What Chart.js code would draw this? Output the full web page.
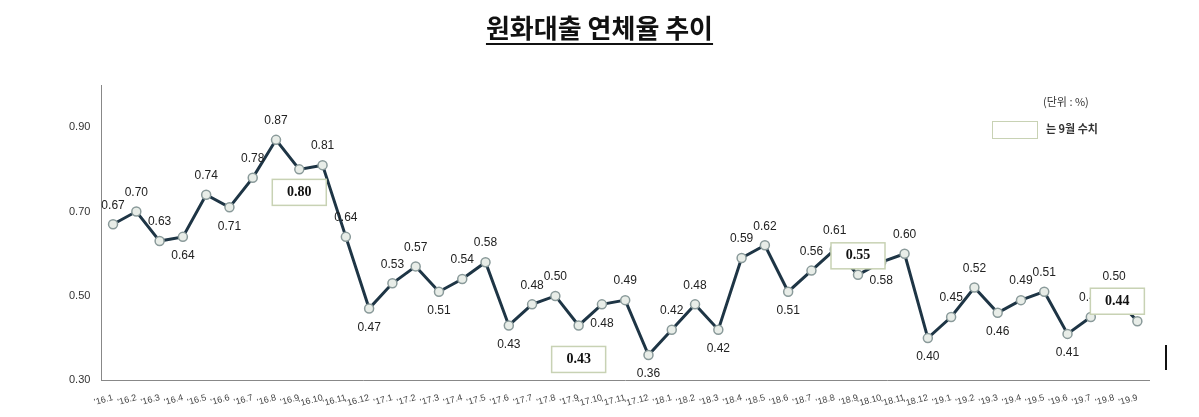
<!DOCTYPE html>
<html><head><meta charset="utf-8">
<script src="https://cdn.jsdelivr.net/npm/chart.js@4"></script>
<style>
body{margin:0;background:#fff;width:1199px;height:417px;overflow:hidden;font-family:"Noto Sans CJK KR",sans-serif}
#t{position:absolute;left:0;width:1199px;top:8px;text-align:center;font-size:26px;font-weight:bold;color:#111}
#t span{text-decoration:underline;text-underline-offset:5px}
#wrap{position:absolute;left:0;top:0;width:1199px;height:417px}
#unit{position:absolute;left:1043px;top:93px;font-size:11px;color:#333}
#leg{position:absolute;left:992px;top:120px;font-size:11px;font-weight:bold;color:#333}
#leg i{display:inline-block;width:44px;height:16px;border:1.5px solid #c8d2b4;vertical-align:middle;margin-right:8px}
#bar{position:absolute;left:1165px;top:345px;width:2px;height:25px;background:#111}
</style></head><body>
<div id="wrap"><canvas id="c" width="1199" height="417"></canvas></div>
<div id="t"><span>원화대출 연체율 추이</span></div>
<div id="unit">(단위 : %)</div>
<div id="leg"><i></i>는 9월 수치</div>
<div id="bar"></div>
<script>
const categories=["'16.1","'16.2","'16.3","'16.4","'16.5","'16.6","'16.7","'16.8","'16.9","'16.10","'16.11","'16.12",
"'17.1","'17.2","'17.3","'17.4","'17.5","'17.6","'17.7","'17.8","'17.9","'17.10","'17.11","'17.12",
"'18.1","'18.2","'18.3","'18.4","'18.5","'18.6","'18.7","'18.8","'18.9","'18.10","'18.11","'18.12",
"'19.1","'19.2","'19.3","'19.4","'19.5","'19.6","'19.7","'19.8","'19.9"];
const rates=[0.67,0.70,0.63,0.64,0.74,0.71,0.78,0.87,0.80,0.81,0.64,0.47,
0.53,0.57,0.51,0.54,0.58,0.43,0.48,0.50,0.43,0.48,0.49,0.36,
0.42,0.48,0.42,0.59,0.62,0.51,0.56,0.61,0.55,0.58,0.60,0.40,
0.45,0.52,0.46,0.49,0.51,0.41,0.45,0.50,0.44];
const yTicks=[0.30,0.50,0.70,0.90];
const below=new Set(["'16.4","'16.6","'16.12","'17.3","'17.6","'17.10","'17.12","'18.3","'18.6","'18.10","'18.12","'19.3","'19.6"]);
const boxed={"'16.9":[0,23],"'17.9":[0,34],"'18.9":[0,-19],"'19.9":[-20,-20]};
const labelPlugin={id:'lbl',afterDatasetsDraw(ch){
 const ctx=ch.ctx,meta=ch.getDatasetMeta(0);
 ctx.save();ctx.textAlign='center';ctx.textBaseline='middle';
 meta.data.forEach((p,i)=>{
  const c=categories[i],t=rates[i].toFixed(2);
  if(boxed[c]){const [dx,dy]=boxed[c];const x=p.x+dx,y=p.y+dy;
   ctx.fillStyle='#fff';ctx.strokeStyle='#c8d2b4';ctx.lineWidth=1.5;
   ctx.fillRect(x-27,y-13,54,26);ctx.strokeRect(x-27,y-13,54,26);
   ctx.fillStyle='#111';ctx.font='bold 14px "Liberation Serif",serif';ctx.fillText(t,x,y);return;}
  ctx.fillStyle='#222';ctx.font='12px "Liberation Sans",sans-serif';
  ctx.fillText(t,p.x,below.has(c)?p.y+19:p.y-19);
 });
 ctx.restore();}};
new Chart(document.getElementById('c'),{type:'line',
 data:{labels:categories,datasets:[{data:rates,borderColor:'#1e3545',borderWidth:3,tension:0,
  pointRadius:4.5,pointBackgroundColor:'#e8ede8',pointBorderColor:'#8a9a9a',pointBorderWidth:1.5}]},
 options:{responsive:false,animation:false,
  layout:{padding:{left:66,right:50,top:85,bottom:4}},
  plugins:{legend:{display:false},tooltip:{enabled:false}},
  scales:{
   x:{offset:true,grid:{display:false,drawTicks:true,tickColor:'#888'},border:{color:'#888'},
    ticks:{maxRotation:15,minRotation:15,autoSkip:false,font:{size:9},color:'#444',padding:4}},
   y:{min:0.30,max:1.0,afterBuildTicks:a=>{a.ticks=yTicks.map(v=>({value:v}));},
    grid:{display:false,drawTicks:true,tickColor:'#888'},border:{color:'#888'},
    ticks:{callback:v=>v.toFixed(2),font:{size:11},color:'#333'}}}},
 plugins:[labelPlugin]});
</script></body></html>
